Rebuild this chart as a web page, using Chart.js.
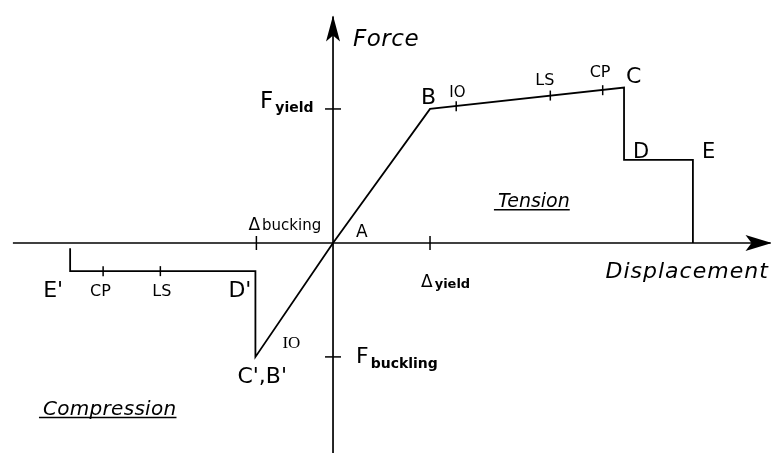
<!DOCTYPE html>
<html>
<head>
<meta charset="utf-8">
<script src="https://cdn.jsdelivr.net/npm/chart.js@4"></script>
<style>
  html, body { margin: 0; padding: 0; background: #fff; }
  canvas { display: block; }
</style>
</head>
<body>
<canvas id="backbone" width="771" height="453"></canvas>
<script>
// backbone curve, displacement in units of Δyield, force in units of Fyield
const tensionDisp = [0, 1.0, 3.0, 3.0, 3.71, 3.71]
const tensionForce = [0, 1.0, 1.16, 0.62, 0.62, 0]
const compressionDisp = [0, -0.80, -0.80, -2.71, -2.71]
const compressionForce = [0, -0.85, -0.21, -0.21, -0.04]

// performance levels marked on the curve
const levelNames = ['IO', 'LS', 'CP']
const tensionLevelDisp = [1.27, 2.24, 2.78]
const tensionLevelForce = [1.02, 1.10, 1.14]
const compressionLevelDisp = [-0.80, -1.78, -2.37]
const compressionLevelForce = [-0.85, -0.21, -0.21]

// ticks on the axes: yield / buckling
const dispTicks = [1.0, -0.79]
const forceTicks = [1.0, -0.85]

// axis extents
const dispAxis = [-3.30, 4.51]
const forceAxis = [-1.60, 1.69]

const ink = '#000'
const font = (s, style) => (style || '') + ' ' + s + 'px "DejaVu Sans"'

const pts = (xs, ys) => xs.map((x, i) => ({x: x, y: ys[i]}))

// text placed next to a data point, offsets in px
const labels = [
  {t: 'Force', at: [0, forceAxis[1]], dx: 20, dy: 30, font: font(23, 'italic'), spacing: 0.5},
  {t: 'F', sub: 'yield', at: [0, forceTicks[0]], dx: -73, dy: -1, font: font(23), subFont: font(14, 'bold'), subDy: 4},
  {t: 'F', sub: 'buckling', at: [0, forceTicks[1]], dx: 23, dy: 6, font: font(22), subFont: font(14, 'bold'), subDy: 5},
  {t: 'Δ', sub: 'yield', at: [dispTicks[0], 0], dx: -9, dy: 44, font: font(17), subFont: font(13, 'bold'), subDy: 1},
  {t: 'Δ', sub: 'bucking', at: [dispTicks[1], 0], dx: -8, dy: -13, font: font(17), subFont: font(15), subDy: 0},
  {t: 'Displacement', at: [dispAxis[1], 0], dx: -165, dy: 35, font: font(22, 'italic'), spacing: 1},
  {t: 'A', at: [0, 0], dx: 23, dy: -6, font: font(17)},
  {t: 'B', at: [tensionDisp[1], tensionForce[1]], dx: -9, dy: -5, font: font(22)},
  {t: 'C', at: [tensionDisp[2], tensionForce[2]], dx: 2, dy: -5, font: font(22)},
  {t: 'D', at: [tensionDisp[3], tensionForce[3]], dx: 9, dy: -2, font: font(21)},
  {t: 'E', at: [tensionDisp[4], tensionForce[4]], dx: 9, dy: -2, font: font(21)},
  {t: levelNames[0], at: [tensionLevelDisp[0], tensionLevelForce[0]], dx: -7, dy: -9, font: font(15)},
  {t: levelNames[1], at: [tensionLevelDisp[1], tensionLevelForce[1]], dx: -15, dy: -11, font: font(16)},
  {t: levelNames[2], at: [tensionLevelDisp[2], tensionLevelForce[2]], dx: -13, dy: -13, font: font(16)},
  {t: "C',B'", at: [compressionDisp[1], compressionForce[1]], dx: -18, dy: 26, font: font(22)},
  {t: "D'", at: [compressionDisp[2], compressionForce[2]], dx: -27, dy: 26, font: font(22)},
  {t: "E'", at: [compressionDisp[3], compressionForce[3]], dx: -27, dy: 26, font: font(22)},
  {t: levelNames[0], at: [compressionLevelDisp[0], compressionLevelForce[0]], dx: 27, dy: -9, font: '17px "Liberation Serif"'},
  {t: levelNames[1], at: [compressionLevelDisp[1], compressionLevelForce[1]], dx: -8, dy: 25, font: font(16)},
  {t: levelNames[2], at: [compressionLevelDisp[2], compressionLevelForce[2]], dx: -13, dy: 25, font: font(16)},
  {t: 'Tension', at: [1.70, 0.27], dx: 0, dy: 0, font: font(19, 'italic'), underline: true},
  {t: 'Compression', at: [-2.99, -1.28], dx: 0, dy: 0, font: font(20, 'italic'), spacing: 0.3, underline: true}
]

const schemePlugin = {
  id: 'scheme',
  afterDatasetsDraw(chart) {
    const ctx = chart.ctx
    const xs = chart.scales.x, ys = chart.scales.y
    const x0 = xs.getPixelForValue(0), y0 = ys.getPixelForValue(0)
    ctx.save()
    ctx.fillStyle = ink

    // arrow heads
    let tx = xs.getPixelForValue(dispAxis[1])
    ctx.beginPath()
    ctx.moveTo(tx + 1, y0)
    ctx.lineTo(tx - 25, y0 - 8)
    ctx.lineTo(tx - 19, y0)
    ctx.lineTo(tx - 25, y0 + 8)
    ctx.closePath()
    ctx.fill()
    let ty = ys.getPixelForValue(forceAxis[1])
    ctx.beginPath()
    ctx.moveTo(x0, ty - 1)
    ctx.lineTo(x0 - 7, ty + 25)
    ctx.lineTo(x0, ty + 19)
    ctx.lineTo(x0 + 7, ty + 25)
    ctx.closePath()
    ctx.fill()

    // labels
    ctx.textBaseline = 'alphabetic'
    ctx.textAlign = 'left'
    labels.forEach(l => {
      let px = xs.getPixelForValue(l.at[0]) + l.dx
      let py = ys.getPixelForValue(l.at[1]) + l.dy
      ctx.font = l.font
      ctx.letterSpacing = (l.spacing || 0) + 'px'
      ctx.fillText(l.t, px, py)
      let w = ctx.measureText(l.t).width
      if (l.sub) {
        ctx.font = l.subFont
        ctx.fillText(l.sub, px + w + 2, py + l.subDy)
      }
      if (l.underline) {
        ctx.strokeStyle = ink
        ctx.lineWidth = 1.6
        ctx.beginPath()
        ctx.moveTo(px - 4, py + 3)
        ctx.lineTo(px + w, py + 3)
        ctx.stroke()
      }
    })
    ctx.letterSpacing = '0px'
    ctx.restore()
  }
}

const lineSet = (data, width) => ({
  data: data,
  showLine: true,
  borderColor: ink,
  borderWidth: width,
  pointRadius: 0,
  tension: 0,
  clip: false
})

const tickSet = (data, radius, rotation) => ({
  data: data,
  showLine: false,
  pointStyle: 'line',
  rotation: rotation,
  pointRadius: radius,
  pointBorderWidth: 1.5,
  pointBorderColor: ink,
  pointBackgroundColor: ink,
  clip: false
})

new Chart(document.querySelector('#backbone').getContext('2d'), {
  type: 'scatter',
  data: {
    datasets: [
      lineSet(pts(dispAxis, [0, 0]), 1.7),
      lineSet(pts([0, 0], forceAxis), 1.7),
      lineSet(pts(tensionDisp, tensionForce), 1.8),
      lineSet(pts(compressionDisp, compressionForce), 1.8),
      tickSet(pts(tensionLevelDisp, tensionLevelForce), 5, 90),
      tickSet(pts(compressionLevelDisp.slice(1), compressionLevelForce.slice(1)), 5, 90),
      tickSet(pts(dispTicks, [0, 0]), 7, 90),
      tickSet(pts([0, 0], forceTicks), 8, 0)
    ]
  },
  options: {
    responsive: false,
    animation: false,
    devicePixelRatio: 1,
    events: [],
    layout: {padding: 0, autoPadding: false},
    plugins: {legend: {display: false}, tooltip: {enabled: false}},
    scales: {
      x: {type: 'linear', display: false, min: -3.433, max: 4.515},
      y: {type: 'linear', display: false, min: -1.567, max: 1.813}
    }
  },
  plugins: [schemePlugin]
})
</script>
</body>
</html>
